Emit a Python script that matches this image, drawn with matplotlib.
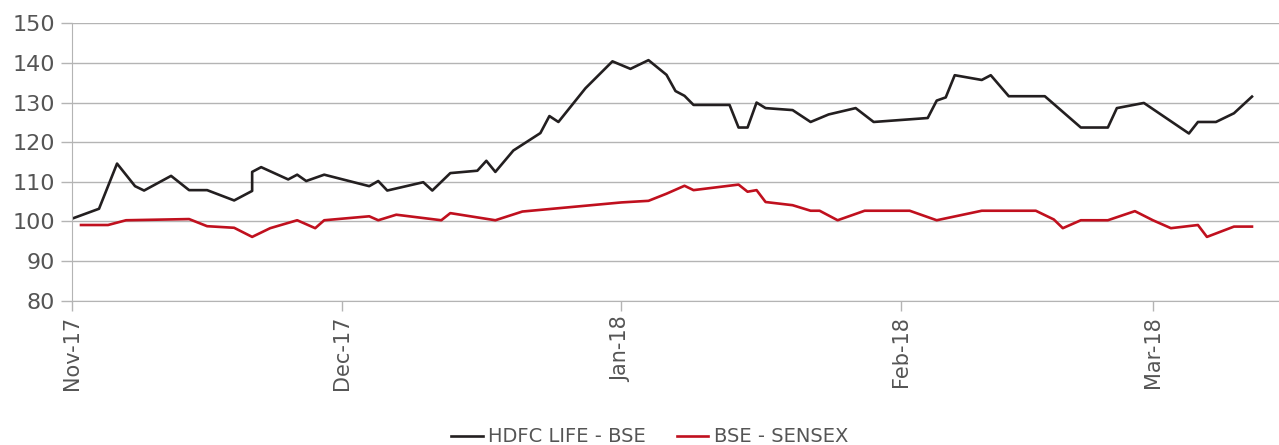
import numpy as np
import pandas as pd
import matplotlib
matplotlib.use("Agg")
import matplotlib.pyplot as plt
import matplotlib.dates as mdates

hdfc_dates = ["2017-11-01", "2017-11-04", "2017-11-06", "2017-11-08", "2017-11-09",
              "2017-11-12", "2017-11-14", "2017-11-16", "2017-11-19", "2017-11-21",
              "2017-11-21", "2017-11-22", "2017-11-25", "2017-11-26", "2017-11-27",
              "2017-11-29", "2017-12-04", "2017-12-05", "2017-12-06", "2017-12-10",
              "2017-12-11", "2017-12-13", "2017-12-16", "2017-12-17", "2017-12-18",
              "2017-12-20", "2017-12-23", "2017-12-24", "2017-12-25", "2017-12-28",
              "2017-12-31", "2018-01-02", "2018-01-04", "2018-01-06", "2018-01-07",
              "2018-01-08", "2018-01-09", "2018-01-13", "2018-01-14", "2018-01-15",
              "2018-01-16", "2018-01-17", "2018-01-20", "2018-01-22", "2018-01-24",
              "2018-01-27", "2018-01-29", "2018-02-04", "2018-02-05", "2018-02-06",
              "2018-02-07", "2018-02-10", "2018-02-11", "2018-02-13", "2018-02-17",
              "2018-02-21", "2018-02-24", "2018-02-25", "2018-02-28", "2018-03-05",
              "2018-03-06", "2018-03-08", "2018-03-10", "2018-03-12"]
hdfc_vals = [100.7, 103.2, 114.6, 108.9, 107.8,
             111.5, 107.9, 107.9, 105.3, 107.7,
             112.5, 113.7, 110.6, 111.8, 110.2,
             111.8, 108.9, 110.2, 107.8, 109.9,
             107.8, 112.2, 112.8, 115.3, 112.5,
             117.9, 122.3, 126.6, 125.1, 133.6,
             140.4, 138.5, 140.7, 137.0, 132.9,
             131.7, 129.4, 129.4, 123.7, 123.7,
             130.0, 128.6, 128.1, 125.1, 127.0,
             128.6, 125.1, 126.1, 130.5, 131.3,
             136.9, 135.7, 136.9, 131.6, 131.6,
             123.7, 123.7, 128.6, 129.9, 122.2,
             125.1, 125.1, 127.3, 131.5]

sensex_dates = ["2017-11-02", "2017-11-05", "2017-11-07", "2017-11-14", "2017-11-16",
                "2017-11-19", "2017-11-21", "2017-11-23", "2017-11-26", "2017-11-28",
                "2017-11-29", "2017-12-04", "2017-12-05", "2017-12-07", "2017-12-12",
                "2017-12-13", "2017-12-18", "2017-12-21", "2018-01-01", "2018-01-04",
                "2018-01-06", "2018-01-08", "2018-01-09", "2018-01-14", "2018-01-15",
                "2018-01-16", "2018-01-17", "2018-01-20", "2018-01-22", "2018-01-23",
                "2018-01-25", "2018-01-28", "2018-02-02", "2018-02-05", "2018-02-10",
                "2018-02-16", "2018-02-18", "2018-02-19", "2018-02-21", "2018-02-24",
                "2018-02-27", "2018-03-01", "2018-03-03", "2018-03-06", "2018-03-07",
                "2018-03-10", "2018-03-12"]
sensex_vals = [99.1, 99.1, 100.3, 100.6, 98.8,
               98.4, 96.1, 98.3, 100.3, 98.3,
               100.3, 101.3, 100.3, 101.7, 100.3,
               102.1, 100.3, 102.5, 104.8, 105.2,
               107.0, 109.0, 107.9, 109.3, 107.5,
               107.9, 104.9, 104.1, 102.7, 102.7,
               100.3, 102.7, 102.7, 100.3, 102.7,
               102.7, 100.5, 98.3, 100.3, 100.3,
               102.6, 100.3, 98.3, 99.1, 96.1,
               98.7, 98.7]

labels = ["HDFC LIFE - BSE", "BSE - SENSEX"]
colors = ["#231f20", "#c0101e"]

plt.rcParams['font.family'] = ['DejaVu Sans']
grey = "#555555"

fig = plt.figure(figsize=(12.79, 4.45), dpi=100)
ax = fig.add_axes([72/1279, 1 - 300.7/445, 1 - 72/1279, (300.7 - 23.3)/445])

ax.plot(pd.to_datetime(hdfc_dates), hdfc_vals, color=colors[0], lw=1.9, label=labels[0])
ax.plot(pd.to_datetime(sensex_dates), sensex_vals, color=colors[1], lw=1.9, label=labels[1])

ax.set_ylim(80, 150)
ax.set_yticks(np.arange(80, 151, 10))
ax.set_xlim(pd.Timestamp("2017-11-01"), pd.Timestamp("2018-03-15"))
ax.xaxis.set_major_locator(mdates.MonthLocator())
ax.xaxis.set_major_formatter(mdates.DateFormatter("%b-%y"))

ax.grid(axis='y', color="#b4b4b4", lw=1.0)
ax.set_axisbelow(True)
for s in ['top', 'right']:
    ax.spines[s].set_visible(False)
ax.spines['left'].set_color("#b4b4b4")
ax.spines['bottom'].set_color("#b4b4b4")
ax.tick_params(axis='y', colors="#b4b4b4", labelcolor=grey, labelsize=16, length=8, width=1, pad=4)
ax.tick_params(axis='x', colors="#b4b4b4", labelcolor=grey, labelsize=15, length=7, width=1, pad=4)
plt.setp(ax.get_xticklabels(), rotation=90)

fig.legend(loc='center', bbox_to_anchor=(650/1279, 1 - 437/445), ncol=2, frameon=False,
           fontsize=14, handlelength=1.6, handletextpad=0.3, columnspacing=1.6,
           labelcolor=grey)

fig.savefig("out.png", dpi=100)
